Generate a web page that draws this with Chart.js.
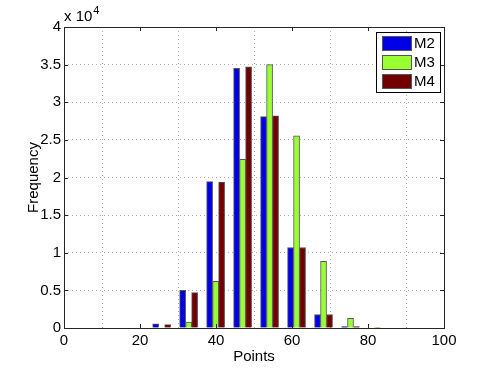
<!DOCTYPE html>
<html>
<head>
<meta charset="utf-8">
<script src="https://cdn.jsdelivr.net/npm/chart.js@4/dist/chart.umd.min.js"></script>
<style>
  html, body { margin: 0; padding: 0; background: #fff; }
  #wrap { width: 491px; height: 369px; }
</style>
</head>
<body>
<div id="wrap"><canvas id="histChart"></canvas></div>
<script>
// bin centres (Points) and counts per model
const binCenters = [25.7, 32.8, 39.9, 47.0, 54.1, 61.2, 68.3, 75.4, 82.5];
const m2Counts = [550, 5000, 19450, 34500, 28100, 10700, 1800, 200, 0];
const m3Counts = [0, 800, 6200, 22400, 35000, 25550, 8850, 1300, 30];
const m4Counts = [450, 4700, 19400, 34700, 28200, 10700, 1800, 200, 0];
const xTicks = [0, 20, 40, 60, 80, 100];
const yTicks = [0, 5000, 10000, 15000, 20000, 25000, 30000, 35000, 40000];

const FONT = 'Liberation Sans, Arial, Helvetica, sans-serif';

function toPoints(values) {
  return binCenters.map((x, i) => ({ x: x, y: values[i] }));
}

// frame, inward ticks, exponent label and legend drawn like matlab
const matlabAxes = {
  id: 'matlabAxes',
  afterDraw(chart) {
    const ctx = chart.ctx;
    const a = chart.chartArea;
    const xs = chart.scales.x, ys = chart.scales.y;
    ctx.save();
    ctx.strokeStyle = '#262626';
    ctx.lineWidth = 1;
    ctx.beginPath();
    xTicks.forEach(v => {
      const px = Math.round(xs.getPixelForValue(v)) + 0.5;
      ctx.moveTo(px, a.bottom); ctx.lineTo(px, a.bottom - 4);
      ctx.moveTo(px, a.top); ctx.lineTo(px, a.top + 4);
    });
    yTicks.forEach(v => {
      const py = Math.round(ys.getPixelForValue(v)) + 0.5;
      ctx.moveTo(a.left, py); ctx.lineTo(a.left + 4, py);
      ctx.moveTo(a.right, py); ctx.lineTo(a.right - 4, py);
    });
    ctx.stroke();
    ctx.strokeRect(Math.round(a.left) + 0.5, Math.round(a.top) + 0.5,
      Math.round(a.right - a.left), Math.round(a.bottom - a.top));

    // x 10^4
    ctx.fillStyle = '#000';
    ctx.textBaseline = 'alphabetic';
    ctx.textAlign = 'left';
    ctx.font = '15px ' + FONT;
    ctx.fillText('x 10', a.left, a.top - 6);
    const w = ctx.measureText('x 10').width;
    ctx.font = '11px ' + FONT;
    ctx.fillText('4', a.left + w + 1, a.top - 13);

    // legend
    const bx = a.right - 68, by = a.top + 5, bw = 64, bh = 60;
    ctx.fillStyle = '#fff';
    ctx.fillRect(bx, by, bw, bh);
    ctx.strokeStyle = '#000';
    ctx.strokeRect(bx + 0.5, by + 0.5, bw, bh);
    ctx.font = '15px ' + FONT;
    ctx.textBaseline = 'middle';
    chart.data.datasets.forEach((ds, i) => {
      const cy = by + 11 + i * 19;
      ctx.fillStyle = ds.backgroundColor;
      ctx.fillRect(bx + 6, cy - 7, 29, 14);
      ctx.strokeStyle = '#555';
      ctx.strokeRect(bx + 6.5, cy - 6.5, 29, 14);
      ctx.fillStyle = '#000';
      ctx.fillText(ds.label, bx + 38, cy + 1);
    });
    ctx.restore();
  }
};

const barStyle = { borderColor: '#555555', borderWidth: 1, barThickness: 6 };

new Chart(document.getElementById('histChart'), {
  type: 'bar',
  data: {
    datasets: [
      Object.assign({ label: 'M2', data: toPoints(m2Counts), backgroundColor: '#0000e6' }, barStyle),
      Object.assign({ label: 'M3', data: toPoints(m3Counts), backgroundColor: '#99ff33' }, barStyle),
      Object.assign({ label: 'M4', data: toPoints(m4Counts), backgroundColor: '#730000' }, barStyle)
    ]
  },
  options: {
    responsive: true,
    maintainAspectRatio: false,
    animation: false,
    layout: { padding: { top: 27, right: 47, left: 0, bottom: 0 } },
    plugins: { legend: { display: false }, tooltip: { enabled: false } },
    scales: {
      x: {
        type: 'linear',
        offset: false,
        min: 0, max: 100,
        afterBuildTicks: s => { s.ticks = xTicks.map(v => ({ value: v })); },
        afterFit: s => { s.height = 41; },
        grid: { color: '#b0b0b0', drawTicks: false, tickLength: 0 },
        border: { display: false, dash: [1, 3] },
        ticks: { color: '#000', padding: 4, font: { size: 15, family: FONT }, maxRotation: 0 },
        title: { display: true, text: 'Points', color: '#000', font: { size: 15, family: FONT }, padding: { top: 0, bottom: 3 } }
      },
      y: {
        min: 0, max: 40000,
        afterBuildTicks: s => { s.ticks = yTicks.map(v => ({ value: v })); },
        afterFit: s => { s.width = 64; },
        grid: { color: '#b0b0b0', drawTicks: false, tickLength: 0 },
        border: { display: false, dash: [1, 3] },
        ticks: { color: '#000', padding: 3, font: { size: 15, family: FONT }, callback: v => String(v / 10000) },
        title: { display: true, text: 'Frequency', color: '#000', font: { size: 15, family: FONT }, padding: { top: 25, bottom: 0 } }
      }
    }
  },
  plugins: [matlabAxes]
});
</script>
</body>
</html>
